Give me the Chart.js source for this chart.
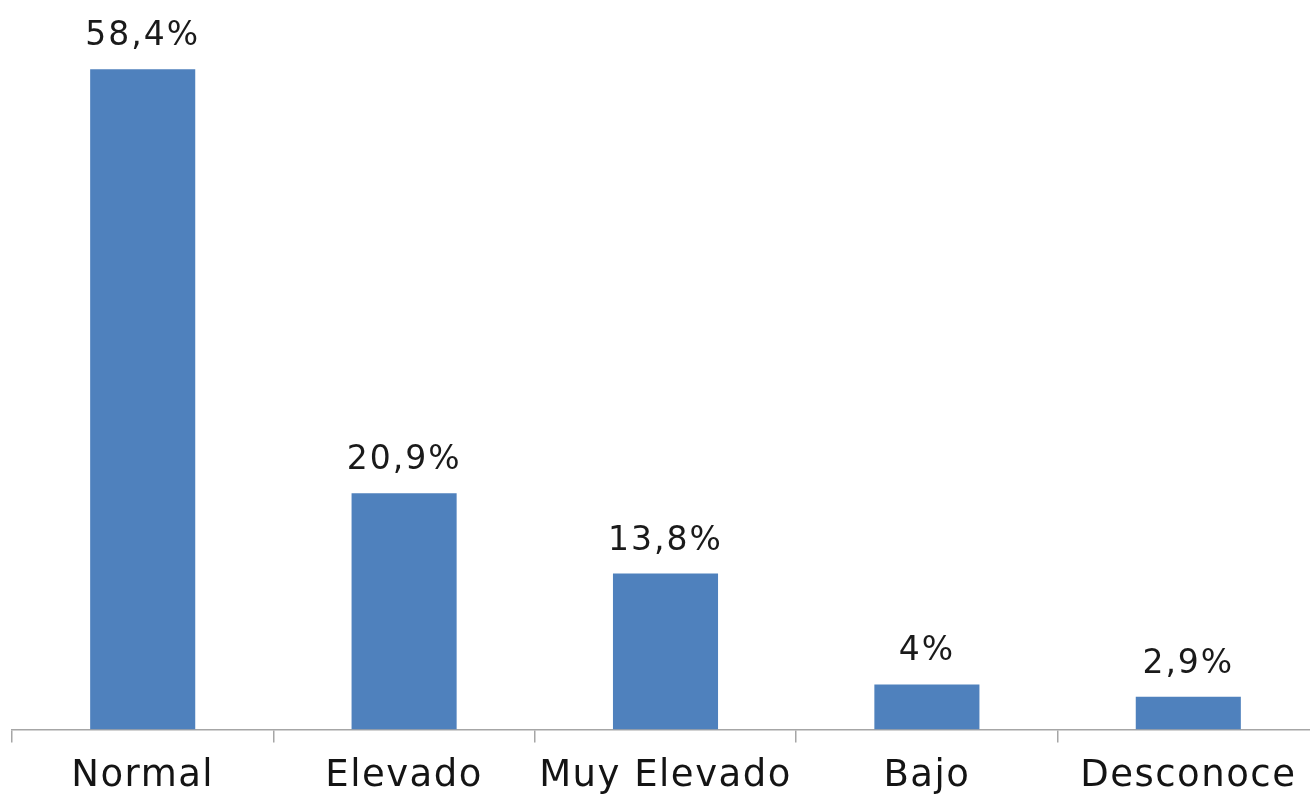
<!DOCTYPE html>
<html>
<head>
<meta charset="utf-8">
<script src="https://cdn.jsdelivr.net/npm/chart.js@4.4.1/dist/chart.umd.min.js"></script>
<style>
  html, body { margin: 0; padding: 0; background: #ffffff; overflow: hidden; }
  #wrap { width: 1320px; height: 820px; position: relative; }
</style>
</head>
<body>
<div id="wrap"><canvas id="chart"></canvas></div>
<script>
// Categories and percentages
const categories = ['Normal', 'Elevado', 'Muy Elevado', 'Bajo', 'Desconoce'];
const values = [58.4, 20.9, 13.8, 4, 2.9];
const valueLabels = ['58,4%', '20,9%', '13,8%', '4%', '2,9%'];

const FONT = 'DejaVu Sans';

// Slightly wider letter spacing for all canvas text
const wideText = {
  id: 'wideText',
  beforeDraw(chart) {
    chart.ctx.letterSpacing = '1.5px';
  }
};

// Writes the percentage above each bar
const barValueLabels = {
  id: 'barValueLabels',
  afterDatasetsDraw(chart) {
    const ctx = chart.ctx;
    const meta = chart.getDatasetMeta(0);
    ctx.save();
    ctx.letterSpacing = '2px';
    ctx.font = '33px "' + FONT + '"';
    ctx.fillStyle = '#1a1a1a';
    ctx.textAlign = 'center';
    ctx.textBaseline = 'alphabetic';
    meta.data.forEach((bar, i) => {
      ctx.fillText(valueLabels[i], bar.x, bar.y - 24);
    });
    ctx.restore();
  }
};

new Chart(document.getElementById('chart'), {
  type: 'bar',
  data: {
    labels: categories,
    datasets: [{
      data: values,
      backgroundColor: '#4F81BD',
      borderWidth: 0,
      barPercentage: 1,
      categoryPercentage: 0.402
    }]
  },
  options: {
    responsive: true,
    maintainAspectRatio: false,
    animation: false,
    layout: { padding: { top: 6, left: 12, right: 1, bottom: 9 } },
    plugins: { legend: { display: false }, tooltip: { enabled: false } },
    scales: {
      x: {
        offset: true,
        grid: {
          display: true,
          offset: true,
          drawOnChartArea: false,
          drawTicks: true,
          tickLength: 13,
          color: '#a6a6a6',
          lineWidth: 1.5
        },
        border: { display: true, color: '#a6a6a6', width: 1.5 },
        ticks: {
          color: '#141414',
          font: { family: FONT, size: 37 },
          padding: 12,
          maxRotation: 0,
          autoSkip: false
        }
      },
      y: {
        display: false,
        min: 0,
        max: 64
      }
    }
  },
  plugins: [wideText, barValueLabels]
});
</script>
</body>
</html>
